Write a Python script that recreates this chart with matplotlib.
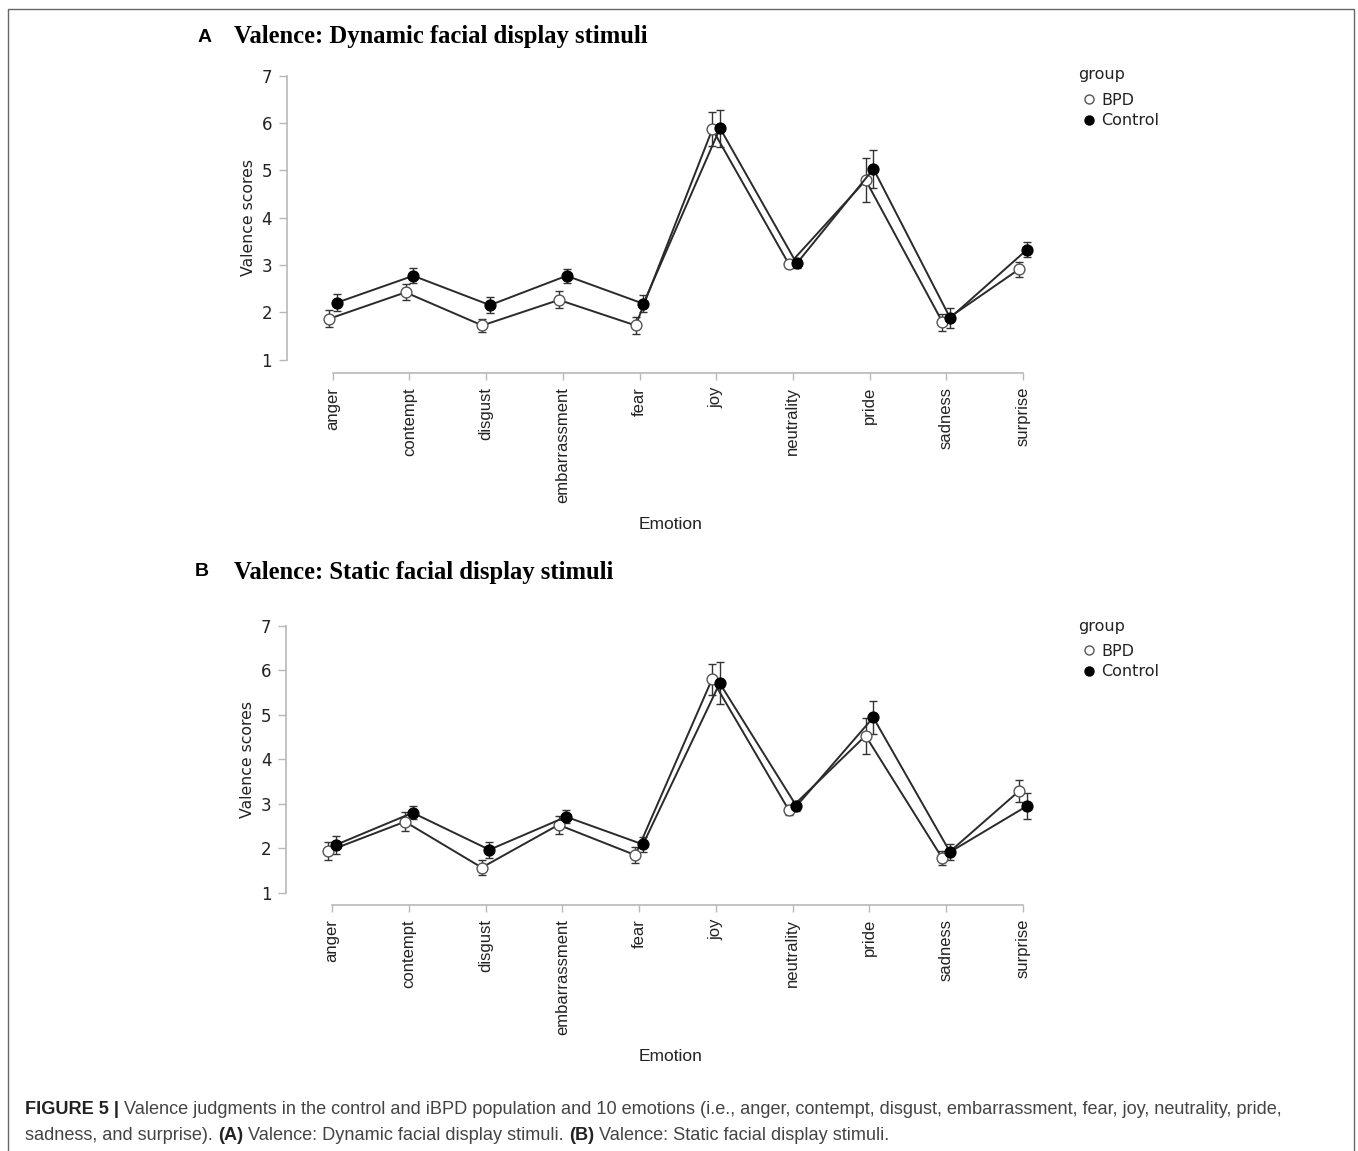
import matplotlib
matplotlib.use("Agg")
import matplotlib.pyplot as plt
from matplotlib.patches import Rectangle
import numpy as np

emotions = ['anger', 'contempt', 'disgust', 'embarrassment', 'fear',
            'joy', 'neutrality', 'pride', 'sadness', 'surprise']
groups = ['BPD', 'Control']

dyn_bpd = [1.86, 2.42, 1.72, 2.26, 1.72, 5.87, 3.01, 4.79, 1.79, 2.91]
dyn_bpd_err = [0.18, 0.17, 0.14, 0.18, 0.18, 0.36, 0.08, 0.47, 0.18, 0.16]
dyn_ctrl = [2.20, 2.77, 2.15, 2.77, 2.18, 5.89, 3.03, 5.03, 1.88, 3.32]
dyn_ctrl_err = [0.18, 0.16, 0.17, 0.15, 0.18, 0.39, 0.10, 0.40, 0.21, 0.16]

sta_bpd = [1.94, 2.60, 1.57, 2.53, 1.85, 5.80, 2.86, 4.53, 1.78, 3.29]
sta_bpd_err = [0.20, 0.21, 0.17, 0.20, 0.18, 0.35, 0.12, 0.40, 0.16, 0.24]
sta_ctrl = [2.08, 2.80, 1.97, 2.71, 2.09, 5.71, 2.95, 4.94, 1.92, 2.95]
sta_ctrl_err = [0.21, 0.15, 0.18, 0.15, 0.17, 0.47, 0.12, 0.36, 0.17, 0.30]

y_ticks = [1, 2, 3, 4, 5, 6, 7]

W, H = 1358, 1151
fig = plt.figure(figsize=(W / 100, H / 100), dpi=100)
fig.patch.set_facecolor('white')

AXGRAY = '#b8b8b8'


def panel(rect, ylim_low, bpd, bpd_err, ctrl, ctrl_err, title_y, leg_y):
    ax = fig.add_axes(rect)
    x = np.arange(len(emotions))
    off = 0.05
    ax.errorbar(x - off, bpd, yerr=bpd_err, fmt='none', ecolor='#333333',
                elinewidth=1.0, capsize=3, capthick=1.0, zorder=2)
    ax.errorbar(x + off, ctrl, yerr=ctrl_err, fmt='none', ecolor='#333333',
                elinewidth=1.0, capsize=3, capthick=1.0, zorder=2)
    ax.plot(x - off, bpd, color='#2a2a2a', lw=1.4, marker='o', ms=7.8,
            mfc='white', mec='#555555', mew=1.0, zorder=3, label=groups[0])
    ax.plot(x + off, ctrl, color='#2a2a2a', lw=1.4, marker='o', ms=7.8,
            mfc='black', mec='black', mew=1.0, zorder=4, label=groups[1])
    ax.set_xlim(-0.6, 9.6)
    ax.set_ylim(ylim_low, 7.0)
    for s in ['top', 'right']:
        ax.spines[s].set_visible(False)
    ax.spines['left'].set_bounds(1, 7)
    ax.spines['bottom'].set_bounds(0, 9)
    for s in ['left', 'bottom']:
        ax.spines[s].set_color(AXGRAY)
        ax.spines[s].set_linewidth(1.2)
    ax.set_yticks(y_ticks)
    ax.set_yticklabels([str(v) for v in y_ticks], fontsize=12,
                       family='DejaVu Sans', color='#222222')
    ax.set_xticks(x)
    ax.set_xticklabels(emotions, rotation=90, fontsize=12,
                       family='Liberation Sans', color='#222222')
    ax.tick_params(axis='y', length=5.5, width=1.0, color=AXGRAY, pad=5)
    ax.tick_params(axis='x', length=5, width=1.0, color=AXGRAY, pad=5)
    ax.set_ylabel('Valence scores', fontsize=11.3, family='DejaVu Sans',
                  color='#222222', labelpad=4)
    ax.yaxis.label.set_y((4 - ylim_low) / (7 - ylim_low))
    ax.set_xlabel('Emotion', fontsize=12.5, family='Liberation Sans',
                  color='#222222', labelpad=10)
    ax.xaxis.label.set_x(0.491)
    fig.text(1078 / W, 1 - title_y / H, 'group', fontsize=11.5, family='DejaVu Sans',
             color='#222222', va='center', ha='left')
    leg = ax.legend(loc='upper left',
                    bbox_to_anchor=(1077 / W, leg_y), bbox_transform=fig.transFigure,
                    frameon=False, handlelength=1.45, handletextpad=0.05,
                    labelspacing=0.32, borderaxespad=0, borderpad=0,
                    prop={'family': 'DejaVu Sans', 'size': 11.5})
    for t in leg.get_texts():
        t.set_color('#222222')
    for h in leg.legend_handles:
        h.set_linestyle('none')
        h.set_markersize(6.5)
    return ax


axA = panel([286.7 / W, 1 - 373 / H, (1069 - 286.7) / W, (373 - 75.7) / H], 0.715,
            dyn_bpd, dyn_bpd_err, dyn_ctrl, dyn_ctrl_err, 75, 1 - 93 / H)
axB = panel([286.0 / W, 1 - 905 / H, (1069 - 286.0) / W, (905 - 625.7) / H], 0.73,
            sta_bpd, sta_bpd_err, sta_ctrl, sta_ctrl_err, 626, 1 - 644 / H)

# panel titles
fig.text(198 / W, 1 - 37 / H, 'A', fontsize=14, fontweight='bold',
         family='Liberation Sans', va='center', ha='left', color='black')
fig.text(234 / W, 1 - 37 / H, 'Valence: Dynamic facial display stimuli', fontsize=17.7,
         fontweight='bold', family='Liberation Serif', va='center', ha='left', color='black')
fig.text(195 / W, 1 - 572 / H, 'B', fontsize=14, fontweight='bold',
         family='Liberation Sans', va='center', ha='left', color='black')
fig.text(234 / W, 1 - 572 / H, 'Valence: Static facial display stimuli', fontsize=17.7,
         fontweight='bold', family='Liberation Serif', va='center', ha='left', color='black')

# frame
fig.patches.append(Rectangle((8 / W, -0.05), (1354 - 8) / W, 1.05 - 9 / H,
                             transform=fig.transFigure, fill=False,
                             edgecolor='#666666', linewidth=1.0))

# caption
renderer = fig.canvas.get_renderer()


def rich_line(x_px, y_px, parts, size=13.1):
    for txt, weight, color in parts:
        t = fig.text(x_px / W, 1 - y_px / H, txt, fontsize=size, fontweight=weight,
                     family='Liberation Sans', color=color, va='center', ha='left')
        bb = t.get_window_extent(renderer)
        x_px = bb.x1


rich_line(25, 1110, [
    ('FIGURE 5 |', 'bold', '#222222'),
    (' Valence judgments in the control and iBPD population and 10 emotions (i.e., anger, '
     'contempt, disgust, embarrassment, fear, joy, neutrality, pride,', 'normal', '#444444'),
])
rich_line(25, 1136, [
    ('sadness, and surprise). ', 'normal', '#444444'),
    ('(A)', 'bold', '#222222'),
    (' Valence: Dynamic facial display stimuli. ', 'normal', '#444444'),
    ('(B)', 'bold', '#222222'),
    (' Valence: Static facial display stimuli.', 'normal', '#444444'),
])

fig.savefig('out.png', dpi=100)
